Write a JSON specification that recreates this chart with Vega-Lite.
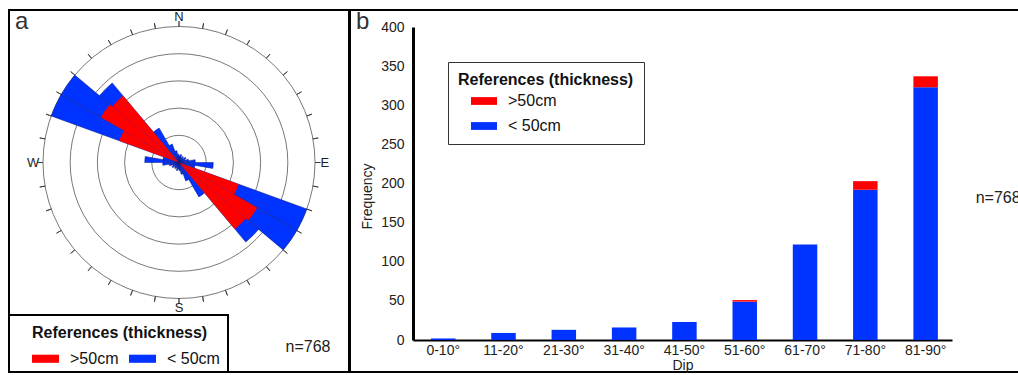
{
  "$schema": "https://vega.github.io/schema/vega-lite/v6.json",
  "padding": {"left": 8, "top": 9, "right": 0, "bottom": 0},
  "background": "white",
  "spacing": -2,
  "config": {
    "font": "Liberation Sans",
    "view": {"stroke": null},
    "legend": {"symbolStrokeWidth": 0, "labelLimit": 0, "titleLimit": 0}
  },
  "datasets": {
    "rose": [
      {"thickness": "< 50cm", "from": 0, "to": 10, "r": 1.2},
      {"thickness": "< 50cm", "from": 10, "to": 20, "r": 1.5},
      {"thickness": "< 50cm", "from": 20, "to": 30, "r": 1.0},
      {"thickness": "< 50cm", "from": 30, "to": 40, "r": 1.3},
      {"thickness": "< 50cm", "from": 40, "to": 50, "r": 1.0},
      {"thickness": "< 50cm", "from": 50, "to": 60, "r": 1.5},
      {"thickness": "< 50cm", "from": 60, "to": 70, "r": 1.2},
      {"thickness": "< 50cm", "from": 70, "to": 80, "r": 1.8},
      {"thickness": "< 50cm", "from": 80, "to": 90, "r": 3.0},
      {"thickness": "< 50cm", "from": 90, "to": 100, "r": 6.3},
      {"thickness": "< 50cm", "from": 100, "to": 110, "r": 3.0},
      {"thickness": "< 50cm", "from": 110, "to": 120, "r": 25},
      {"thickness": "< 50cm", "from": 120, "to": 130, "r": 25},
      {"thickness": "< 50cm", "from": 130, "to": 140, "r": 19.1},
      {"thickness": "< 50cm", "from": 140, "to": 150, "r": 7.3},
      {"thickness": "< 50cm", "from": 150, "to": 160, "r": 3.6},
      {"thickness": "< 50cm", "from": 160, "to": 170, "r": 2.2},
      {"thickness": "< 50cm", "from": 170, "to": 180, "r": 1.5},
      {"thickness": "< 50cm", "from": 180, "to": 190, "r": 1.2},
      {"thickness": "< 50cm", "from": 190, "to": 200, "r": 1.5},
      {"thickness": "< 50cm", "from": 200, "to": 210, "r": 1.0},
      {"thickness": "< 50cm", "from": 210, "to": 220, "r": 1.3},
      {"thickness": "< 50cm", "from": 220, "to": 230, "r": 1.0},
      {"thickness": "< 50cm", "from": 230, "to": 240, "r": 1.5},
      {"thickness": "< 50cm", "from": 240, "to": 250, "r": 1.2},
      {"thickness": "< 50cm", "from": 250, "to": 260, "r": 1.8},
      {"thickness": "< 50cm", "from": 260, "to": 270, "r": 3.0},
      {"thickness": "< 50cm", "from": 270, "to": 280, "r": 6.3},
      {"thickness": "< 50cm", "from": 280, "to": 290, "r": 3.0},
      {"thickness": "< 50cm", "from": 290, "to": 300, "r": 25},
      {"thickness": "< 50cm", "from": 300, "to": 310, "r": 25},
      {"thickness": "< 50cm", "from": 310, "to": 320, "r": 19.1},
      {"thickness": "< 50cm", "from": 320, "to": 330, "r": 7.3},
      {"thickness": "< 50cm", "from": 330, "to": 340, "r": 3.6},
      {"thickness": "< 50cm", "from": 340, "to": 350, "r": 2.2},
      {"thickness": "< 50cm", "from": 350, "to": 360, "r": 1.5},
      {"thickness": ">50cm", "from": 110, "to": 120, "r": 11.7},
      {"thickness": ">50cm", "from": 120, "to": 130, "r": 16.6},
      {"thickness": ">50cm", "from": 130, "to": 140, "r": 16.0},
      {"thickness": ">50cm", "from": 290, "to": 300, "r": 11.7},
      {"thickness": ">50cm", "from": 300, "to": 310, "r": 16.6},
      {"thickness": ">50cm", "from": 310, "to": 320, "r": 16.0}
    ],
    "rings": [{"ring": 5}, {"ring": 10}, {"ring": 15}, {"ring": 20}, {"ring": 25}],
    "ticks": [
      {"a": 0}, {"a": 10}, {"a": 20}, {"a": 30}, {"a": 40}, {"a": 50}, {"a": 60}, {"a": 70}, {"a": 80},
      {"a": 90}, {"a": 100}, {"a": 110}, {"a": 120}, {"a": 130}, {"a": 140}, {"a": 150}, {"a": 160}, {"a": 170},
      {"a": 180}, {"a": 190}, {"a": 200}, {"a": 210}, {"a": 220}, {"a": 230}, {"a": 240}, {"a": 250}, {"a": 260},
      {"a": 270}, {"a": 280}, {"a": 290}, {"a": 300}, {"a": 310}, {"a": 320}, {"a": 330}, {"a": 340}, {"a": 350}
    ],
    "compass": [
      {"lab": "N", "ang": 0}, {"lab": "E", "ang": 90}, {"lab": "S", "ang": 180}, {"lab": "W", "ang": 270}
    ],
    "classes": [{"thickness": ">50cm"}, {"thickness": "< 50cm"}],
    "dip": [
      {"dip": "0-10°", "thickness": "< 50cm", "n": 2},
      {"dip": "11-20°", "thickness": "< 50cm", "n": 9},
      {"dip": "21-30°", "thickness": "< 50cm", "n": 13},
      {"dip": "31-40°", "thickness": "< 50cm", "n": 16},
      {"dip": "41-50°", "thickness": "< 50cm", "n": 23},
      {"dip": "51-60°", "thickness": "< 50cm", "n": 49},
      {"dip": "61-70°", "thickness": "< 50cm", "n": 122},
      {"dip": "71-80°", "thickness": "< 50cm", "n": 192},
      {"dip": "81-90°", "thickness": "< 50cm", "n": 323},
      {"dip": "51-60°", "thickness": ">50cm", "n": 2},
      {"dip": "71-80°", "thickness": ">50cm", "n": 11},
      {"dip": "81-90°", "thickness": ">50cm", "n": 14}
    ]
  },
  "resolve": {"scale": {"color": "independent"}, "legend": {"color": "independent"}},
  "hconcat": [
    {
      "spacing": 0,
      "bounds": "flush",
      "resolve": {"scale": {"color": "independent"}, "legend": {"color": "independent"}},
      "vconcat": [
        {
          "width": 340,
          "height": 305,
          "view": {"stroke": "black", "strokeWidth": 2, "strokeDash": [645, 121, 524]},
          "title": {"text": "a", "anchor": "start", "frame": "group", "offset": -24, "fontSize": 24, "fontWeight": "normal", "color": "#333", "dx": 6},
          "layer": [
            {
              "data": {"name": "rings"},
              "mark": {"type": "arc", "filled": false, "stroke": "#555", "strokeWidth": 0.8},
              "encoding": {
                "theta": {"datum": 0, "type": "quantitative", "scale": {"domain": [0, 360], "zero": true}},
                "theta2": {"datum": 360},
                "radius": {"field": "ring", "type": "quantitative", "stack": null, "scale": {"type": "linear", "domain": [0, 25], "range": [0, 136], "zero": true}}
              }
            },
            {
              "data": {"name": "ticks"},
              "mark": {"type": "arc", "filled": false, "stroke": "#333", "strokeWidth": 0.8},
              "encoding": {
                "theta": {"field": "a", "type": "quantitative", "stack": null},
                "theta2": {"field": "a"},
                "radius": {"datum": 26, "type": "quantitative"},
                "radius2": {"datum": 25}
              }
            },
            {
              "data": {"name": "rose"},
              "transform": [{"filter": "datum.thickness == '< 50cm'"}],
              "mark": {"type": "arc", "stroke": "#0a1a80", "strokeWidth": 0.5},
              "encoding": {
                "theta": {"field": "from", "type": "quantitative", "stack": null},
                "theta2": {"field": "to"},
                "radius": {"field": "r", "type": "quantitative", "stack": null},
                "color": {"field": "thickness", "type": "nominal", "scale": {"domain": [">50cm", "< 50cm"], "range": ["#ff0000", "#0033ff"]}, "legend": null}
              }
            },
            {
              "data": {"name": "rose"},
              "transform": [{"filter": "datum.thickness == '>50cm'"}],
              "mark": {"type": "arc"},
              "encoding": {
                "theta": {"field": "from", "type": "quantitative", "stack": null},
                "theta2": {"field": "to"},
                "radius": {"field": "r", "type": "quantitative", "stack": null},
                "color": {"field": "thickness", "type": "nominal", "scale": {"domain": [">50cm", "< 50cm"], "range": ["#ff0000", "#0033ff"]}, "legend": null}
              }
            },
            {
              "data": {"name": "compass"},
              "mark": {"type": "text", "fontSize": 13, "color": "#222", "baseline": "middle", "align": "center"},
              "encoding": {
                "theta": {"field": "ang", "type": "quantitative", "stack": null},
                "radius": {"datum": 26.8, "type": "quantitative"},
                "text": {"field": "lab"}
              }
            }
          ]
        },
        {
          "spacing": 0,
          "bounds": "flush",
          "resolve": {"scale": {"color": "independent"}, "legend": {"color": "independent"}},
          "hconcat": [
            {
              "width": 219,
              "height": 57,
              "view": {"stroke": "black", "strokeWidth": 2},
              "data": {"name": "classes"},
              "mark": {"type": "text", "text": ""},
              "encoding": {
                "color": {
                  "field": "thickness", "type": "nominal",
                  "scale": {"domain": [">50cm", "< 50cm"], "range": ["#ff0000", "#0033ff"]},
                  "legend": {
                    "title": "References (thickness)",
                    "orient": "none", "legendX": 23, "legendY": 10,
                    "direction": "horizontal",
                    "titleFontSize": 16, "titleFontWeight": "bold", "titleColor": "#111",
                    "labelFontSize": 16, "labelColor": "#111",
                    "symbolType": "M-1,-0.3H1V0.3H-1Z", "symbolSize": 729,
                    "labelOffset": 11, "columnPadding": 10, "titlePadding": 4, "padding": 0
                  }
                }
              }
            },
            {
              "width": 121,
              "height": 57,
              "view": {"stroke": "black", "strokeWidth": 2, "strokeDash": [0, 121, 178, 57]},
              "data": {"values": [{"label": "n=768"}]},
              "mark": {"type": "text", "fontSize": 16, "align": "left", "baseline": "middle", "dx": -3, "dy": 3, "color": "#222"},
              "encoding": {"text": {"field": "label"}}
            }
          ]
        }
      ]
    },
    {
      "width": 680,
      "height": 362,
      "view": {"stroke": "black", "strokeWidth": 2},
      "title": {"text": "b", "anchor": "start", "frame": "group", "offset": -24, "fontSize": 24, "fontWeight": "normal", "color": "#333", "dx": 6},
      "layer": [
        {
          "data": {"name": "dip"},
          "mark": {"type": "bar"},
          "encoding": {
            "x": {
              "field": "dip", "type": "ordinal", "sort": null,
              "scale": {"range": [63, 602], "paddingInner": 0.594, "paddingOuter": 0.266, "align": 0.56},
              "axis": {"title": "Dip", "labelAngle": 0, "labelFontSize": 14, "titleFontSize": 14, "titleFontWeight": "normal", "labelColor": "#222", "titleColor": "#222", "domainColor": "black", "domainWidth": 2, "ticks": false, "tickSize": 0, "labelPadding": 3, "titlePadding": 1, "offset": -32, "grid": false}
            },
            "y": {
              "field": "n", "type": "quantitative", "stack": "zero",
              "scale": {"domain": [0, 400], "range": [330, 17], "nice": false},
              "axis": {"title": "Frequency", "values": [0, 50, 100, 150, 200, 250, 300, 350, 400], "labelFontSize": 14, "titleFontSize": 14, "titleFontWeight": "normal", "labelColor": "#222", "titleColor": "#222", "domainColor": "black", "domainWidth": 3, "ticks": false, "tickSize": 0, "labelPadding": 9, "titlePadding": 6, "titleY": 186, "offset": -63, "grid": false}
            },
            "color": {
              "field": "thickness", "type": "nominal",
              "scale": {"domain": [">50cm", "< 50cm"], "range": ["#ff0000", "#0033ff"]},
              "legend": {
                "title": "References (thickness)\u00a0\u00a0\u00a0\u00a0",
                "orient": "none", "legendX": 98, "legendY": 52,
                "direction": "vertical",
                "strokeColor": "#333", "padding": 10,
                "titleFontSize": 16, "titleFontWeight": "bold", "titleColor": "#111",
                "labelFontSize": 16, "labelColor": "#111",
                "symbolType": "M-1,-0.3H1V0.3H-1Z", "symbolSize": 676,
                "symbolOffset": 13, "labelOffset": 11, "rowPadding": 4, "titlePadding": 0
              }
            },
            "order": {"field": "thickness", "sort": "ascending"}
          }
        },
        {
          "data": {"values": [{"label": "n=768"}]},
          "mark": {"type": "text", "align": "left", "baseline": "middle", "fontSize": 16, "dx": 50, "color": "#222"},
          "encoding": {
            "x": {"datum": "81-90°", "type": "ordinal"},
            "y": {"datum": 182, "type": "quantitative"},
            "text": {"field": "label"}
          }
        }
      ]
    }
  ]
}
